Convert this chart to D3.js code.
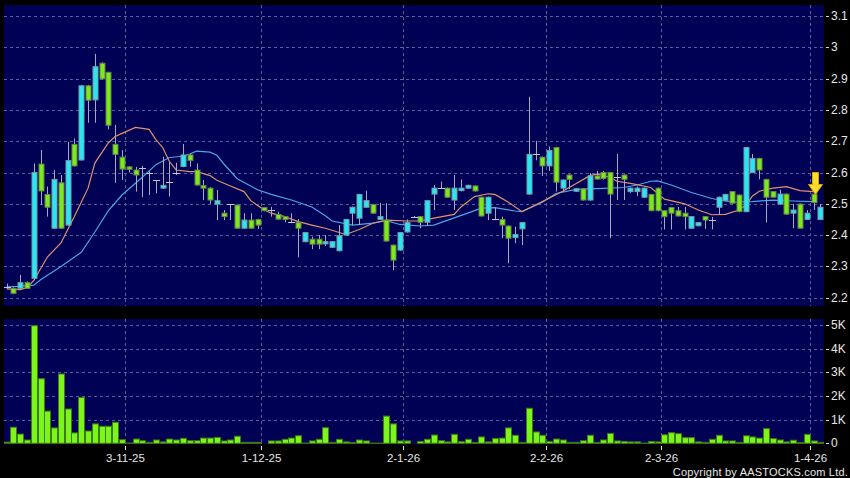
<!DOCTYPE html>
<html lang="en"><head>
<meta charset="utf-8">
<title>Candlestick with volume</title>
<script src="https://cdn.jsdelivr.net/npm/d3@7"></script>
<style>
  body { margin: 0; background: #000; }
  svg { display: block; }
  text { font-family: Arial, "Liberation Sans", sans-serif; fill: #e6e6e6; }
</style>
</head>
<body>
<svg id="chart" width="850" height="478"></svg>
<script>
// daily candles, index 0 = first bar shown
const openP = [2.235,2.230,2.230,2.248,2.262,2.627,2.530,2.422,2.567,2.432,
  2.690,2.640,2.877,2.832,2.949,2.920,2.690,2.649,2.618,2.608,
  2.613,2.600,2.576,2.550,2.571,2.600,2.619,2.656,2.608,2.558,
  2.550,2.499,2.470,2.498,2.496,2.422,2.448,2.450,2.488,2.480,
  2.466,2.459,2.441,2.440,2.379,2.387,2.387,2.372,2.361,2.350,
  2.400,2.470,2.454,2.489,2.498,2.450,2.448,2.368,2.352,2.410,
  2.459,2.459,2.441,2.531,2.550,2.550,2.512,2.542,2.550,2.557,
  2.521,2.470,2.450,2.450,2.429,2.392,2.420,2.531,2.658,2.649,
  2.621,2.680,2.550,2.592,2.540,2.548,2.512,2.589,2.600,2.600,
  2.587,2.592,2.539,2.539,2.521,2.530,2.550,2.478,2.488,2.478,
  2.470,2.422,2.430,2.459,2.448,2.489,2.510,2.539,2.528,2.475,
  2.600,2.645,2.578,2.539,2.499,2.531,2.470,2.499,2.450,2.531,2.450]
const highP = [2.245,2.233,2.273,2.252,2.629,2.672,2.555,2.608,2.592,2.698,
  2.709,2.880,2.880,2.979,2.952,2.922,2.752,2.672,2.620,2.618,
  2.621,2.604,2.576,2.650,2.635,2.631,2.691,2.660,2.629,2.576,
  2.553,2.544,2.480,2.498,2.498,2.470,2.470,2.452,2.490,2.490,
  2.475,2.461,2.470,2.451,2.410,2.395,2.400,2.400,2.381,2.432,
  2.452,2.491,2.532,2.542,2.500,2.503,2.502,2.370,2.410,2.450,
  2.461,2.461,2.512,2.560,2.571,2.552,2.592,2.578,2.561,2.559,
  2.523,2.523,2.489,2.459,2.431,2.427,2.442,2.842,2.701,2.651,
  2.683,2.682,2.578,2.594,2.550,2.550,2.598,2.605,2.605,2.602,
  2.659,2.594,2.552,2.555,2.552,2.532,2.552,2.480,2.490,2.490,
  2.490,2.461,2.442,2.461,2.458,2.523,2.532,2.541,2.530,2.682,
  2.659,2.647,2.580,2.541,2.545,2.533,2.500,2.501,2.480,2.533,2.499]
const lowP = [2.228,2.211,2.228,2.228,2.257,2.496,2.459,2.420,2.420,2.430,
  2.619,2.638,2.759,2.759,2.897,2.738,2.567,2.576,2.600,2.539,
  2.521,2.528,2.534,2.548,2.523,2.592,2.617,2.619,2.558,2.512,
  2.500,2.448,2.448,2.448,2.420,2.420,2.420,2.420,2.476,2.459,
  2.448,2.441,2.438,2.329,2.377,2.355,2.355,2.365,2.359,2.348,
  2.398,2.432,2.432,2.487,2.468,2.448,2.379,2.288,2.350,2.408,
  2.457,2.422,2.430,2.480,2.548,2.519,2.480,2.540,2.548,2.539,
  2.459,2.448,2.448,2.390,2.310,2.374,2.368,2.529,2.639,2.589,
  2.605,2.539,2.539,2.547,2.538,2.510,2.510,2.577,2.577,2.390,
  2.512,2.512,2.535,2.525,2.519,2.476,2.476,2.418,2.418,2.459,
  2.418,2.420,2.428,2.420,2.418,2.466,2.508,2.500,2.473,2.473,
  2.598,2.578,2.440,2.519,2.497,2.465,2.422,2.422,2.448,2.480,2.448]
const closeP = [2.235,2.214,2.248,2.230,2.600,2.541,2.489,2.578,2.422,2.638,
  2.621,2.877,2.831,2.938,2.899,2.751,2.658,2.611,2.610,2.592,
  2.613,2.600,2.576,2.559,2.571,2.600,2.656,2.638,2.560,2.550,
  2.512,2.510,2.459,2.498,2.422,2.448,2.422,2.432,2.478,2.480,
  2.451,2.450,2.441,2.422,2.408,2.371,2.371,2.379,2.379,2.398,
  2.450,2.489,2.530,2.510,2.470,2.459,2.381,2.320,2.408,2.440,
  2.459,2.441,2.510,2.550,2.550,2.521,2.550,2.550,2.559,2.541,
  2.461,2.521,2.450,2.432,2.390,2.402,2.440,2.658,2.658,2.621,
  2.670,2.569,2.576,2.578,2.548,2.512,2.589,2.579,2.581,2.531,
  2.587,2.578,2.550,2.550,2.550,2.478,2.478,2.459,2.470,2.461,
  2.459,2.459,2.440,2.448,2.448,2.521,2.530,2.502,2.475,2.680,
  2.645,2.608,2.521,2.521,2.531,2.467,2.480,2.422,2.470,2.504,2.489]
// volume in thousands
const volumeK = [0.05,0.68,0.39,0.14,4.97,2.73,1.36,0.65,2.93,1.45,
  0.44,1.94,0.52,0.82,0.72,0.72,0.89,0.15,0.01,0.18,
  0.11,0.04,0.14,0.06,0.18,0.14,0.21,0.11,0.11,0.22,
  0.22,0.25,0.10,0.14,0.30,0.04,0.04,0.04,0.00,0.10,
  0.10,0.17,0.22,0.32,0.01,0.10,0.17,0.66,0.04,0.17,
  0.06,0.03,0.14,0.10,0.01,0.01,1.15,0.82,0.10,0.10,
  0.00,0.08,0.17,0.35,0.11,0.06,0.38,0.07,0.17,0.04,
  0.27,0.06,0.20,0.22,0.65,0.34,0.04,1.48,0.48,0.34,
  0.08,0.18,0.14,0.04,0.04,0.11,0.34,0.04,0.14,0.42,
  0.10,0.08,0.06,0.06,0.01,0.08,0.06,0.36,0.45,0.41,
  0.24,0.24,0.06,0.04,0.17,0.34,0.10,0.10,0.04,0.32,
  0.27,0.22,0.62,0.20,0.14,0.06,0.13,0.03,0.38,0.10,0.04]

// moving averages: [bar index, value]
const ma10 = [[0,2.228],[2,2.226],[3,2.232],[4,2.255],[6,2.33],[8,2.375],[10,2.46],[12,2.55],
  [13,2.63],[15,2.695],[16,2.715],[17,2.725],[19,2.744],[21,2.738],[22,2.705],[23,2.68],
  [24,2.635],[25,2.608],[27,2.603],[28,2.603],[30,2.59],[31,2.575],[33,2.557],[35,2.539],
  [36,2.51],[38,2.48],[39,2.47],[41,2.459],[43,2.443],[45,2.432],[47,2.422],[50,2.402],
  [52,2.418],[54,2.438],[56,2.448],[59,2.445],[61,2.445],[63,2.454],[66,2.466],[67,2.49],
  [69,2.523],[71,2.532],[72,2.53],[74,2.505],[76,2.475],[78,2.496],[79,2.507],[82,2.54],
  [84,2.565],[86,2.59],[87,2.595],[89,2.585],[90,2.572],[92,2.565],[95,2.552],[97,2.515],
  [100,2.5],[102,2.48],[104,2.465],[106,2.466],[108,2.48],[109,2.495],[110,2.525],
  [111,2.54],[113,2.55],[115,2.555],[117,2.542],[119,2.539]]
const ma20 = [[0,2.235],[2,2.236],[4,2.24],[5,2.257],[8,2.30],[11,2.345],[13,2.41],[15,2.478],
  [17,2.528],[20,2.585],[22,2.625],[24,2.648],[26,2.652],[27,2.659],[28,2.668],[30,2.665],
  [31,2.655],[32,2.628],[34,2.58],[37,2.545],[39,2.53],[42,2.512],[45,2.49],[47,2.462],
  [48,2.445],[51,2.432],[54,2.438],[56,2.446],[58,2.434],[61,2.429],[63,2.432],[66,2.455],
  [68,2.47],[70,2.486],[72,2.488],[75,2.477],[76,2.475],[79,2.505],[81,2.533],[84,2.546],
  [88,2.549],[91,2.552],[93,2.56],[95,2.572],[96,2.573],[98,2.56],[101,2.536],[104,2.517],
  [107,2.505],[110,2.507],[113,2.512],[116,2.509],[119,2.507]]

const priceTicks = [2.2,2.3,2.4,2.5,2.6,2.7,2.8,2.9,3,3.1]
const volTicks = [0,1,2,3,4,5]
const dateTicks = [[18,"3-11-25"],[38,"1-12-25"],[59,"2-1-26"],[80,"2-2-26"],[97,"2-3-26"],[119,"1-4-26"]]
const arrowBar = 119

const svg = d3.select("#chart")
const n = closeP.length

const x = d3.scaleLinear().domain([0, n - 1]).range([6.7, 820.3])
const step = x(1) - x(0)
const y = d3.scaleLinear().domain([2.2, 3.1]).range([297.7, 16])
const yv = d3.scaleLinear().domain([0, 5]).range([443.3, 325])

const pricePanel = {x: 4, y: 5, w: 820, h: 301}
const volPanel = {x: 4, y: 319, w: 820, h: 125}
const gridCol = "#5c5c98"

// panels
svg.selectAll("rect.panel")
  .data([pricePanel, volPanel]).enter()
  .append("rect")
  .attr("class", "panel")
  .attr("x", d => d.x).attr("y", d => d.y)
  .attr("width", d => d.w).attr("height", d => d.h)
  .attr("fill", "#000055")

// horizontal grid
svg.append("g").selectAll("line")
  .data(priceTicks).enter()
  .append("line")
  .attr("x1", pricePanel.x).attr("x2", pricePanel.x + pricePanel.w)
  .attr("y1", d => Math.round(y(d)) + 0.5).attr("y2", d => Math.round(y(d)) + 0.5)
  .attr("stroke", gridCol).attr("stroke-dasharray", "3,3")

svg.append("g").selectAll("line")
  .data(volTicks.filter(d => d > 0)).enter()
  .append("line")
  .attr("x1", volPanel.x).attr("x2", volPanel.x + volPanel.w)
  .attr("y1", d => Math.round(yv(d)) + 0.5).attr("y2", d => Math.round(yv(d)) + 0.5)
  .attr("stroke", gridCol).attr("stroke-dasharray", "3,3")

// vertical grid at month starts
const gx = i => Math.round(x(i) - step / 2) + 0.5
const vg = svg.append("g")
dateTicks.forEach(([i]) => {
  [[pricePanel.y, pricePanel.y + pricePanel.h], [volPanel.y, volPanel.y + volPanel.h]].forEach(([a, b]) => {
    vg.append("line")
      .attr("x1", gx(i)).attr("x2", gx(i))
      .attr("y1", a).attr("y2", b)
      .attr("stroke", gridCol).attr("stroke-dasharray", "3,3")
  })
})

// right axes
const axisG = svg.append("g")
priceTicks.forEach(t => {
  axisG.append("line").attr("x1", 826).attr("x2", 829)
    .attr("y1", Math.round(y(t)) + 0.5).attr("y2", Math.round(y(t)) + 0.5)
    .attr("stroke", "#ddd")
  axisG.append("text").attr("x", 831).attr("y", y(t) + 4)
    .attr("font-size", 12).text(d3.format("~g")(t))
})
volTicks.forEach(t => {
  axisG.append("line").attr("x1", 826).attr("x2", 829)
    .attr("y1", Math.round(yv(t)) + 0.5).attr("y2", Math.round(yv(t)) + 0.5)
    .attr("stroke", "#ddd")
  axisG.append("text").attr("x", 831).attr("y", yv(t) + 4)
    .attr("font-size", 12).text(t == 0 ? "0" : t + "K")
})

// date axis
dateTicks.forEach(([i, lab]) => {
  axisG.append("line").attr("x1", gx(i)).attr("x2", gx(i))
    .attr("y1", 446).attr("y2", 450).attr("stroke", "#ddd")
  axisG.append("text").attr("x", gx(i)).attr("y", 462)
    .attr("text-anchor", "middle").attr("font-size", 11.5).text(lab)
})

// moving averages
const line = d3.line().x(d => x(d[0])).y(d => y(d[1]))
svg.append("path").datum(ma20)
  .attr("d", line).attr("fill", "none")
  .attr("stroke", "#4aa6e6").attr("stroke-width", 1.2)
svg.append("path").datum(ma10)
  .attr("d", line).attr("fill", "none")
  .attr("stroke", "#e0926c").attr("stroke-width", 1.2)

// candles
const bars = d3.range(n)
const cg = svg.append("g")
cg.selectAll("line.wick")
  .data(bars).enter()
  .append("line")
  .attr("class", "wick")
  .attr("x1", i => Math.round(x(i)) + 0.5).attr("x2", i => Math.round(x(i)) + 0.5)
  .attr("y1", i => y(highP[i])).attr("y2", i => y(lowP[i]))
  .attr("stroke", "#a9a9bb")

cg.selectAll("rect.body")
  .data(bars.filter(i => openP[i] != closeP[i])).enter()
  .append("rect")
  .attr("class", "body")
  .attr("x", i => Math.round(x(i)) - 2)
  .attr("width", 5)
  .attr("y", i => y(Math.max(openP[i], closeP[i])))
  .attr("height", i => Math.max(1.5, Math.abs(y(openP[i]) - y(closeP[i]))))
  .attr("fill", i => closeP[i] > openP[i] ? "#28e6f2" : "#7de81c")
  .attr("stroke", i => closeP[i] > openP[i] ? "#7a9aa6" : "#62844a")
  .attr("stroke-width", 1)

cg.selectAll("line.doji")
  .data(bars.filter(i => openP[i] == closeP[i])).enter()
  .append("line")
  .attr("class", "doji")
  .attr("x1", i => Math.round(x(i)) - 3).attr("x2", i => Math.round(x(i)) + 4)
  .attr("y1", i => Math.round(y(closeP[i])) + 0.5).attr("y2", i => Math.round(y(closeP[i])) + 0.5)
  .attr("stroke", "#c4c4d4")

// volume
svg.append("g").selectAll("rect")
  .data(bars).enter()
  .append("rect")
  .attr("x", i => Math.round(x(i)) - 2.5)
  .attr("width", 6)
  .attr("y", i => yv(volumeK[i]))
  .attr("height", i => yv(0) - yv(volumeK[i]))
  .attr("fill", "#7cf51a")
  .attr("stroke", "#3c7a12")
  .attr("stroke-width", 1)

// marker arrow over the latest signal bar
const ax = Math.round(x(arrowBar)) + 1.5
const tip = y(highP[arrowBar]) + 1
svg.append("path")
  .attr("d", `M${ax - 3},${tip - 22} L${ax + 3},${tip - 22} L${ax + 3},${tip - 10}
    L${ax + 7},${tip - 10} L${ax},${tip} L${ax - 7},${tip - 10} L${ax - 3},${tip - 10} Z`)
  .attr("fill", "#ffdc2e").attr("stroke", "#e0a400").attr("stroke-width", 1)

svg.append("text")
  .attr("x", 848).attr("y", 476)
  .attr("text-anchor", "end").attr("font-size", 11)
  .attr("letter-spacing", 0.2)
  .text("Copyright by AASTOCKS.com Ltd.")
</script>
</body>
</html>
